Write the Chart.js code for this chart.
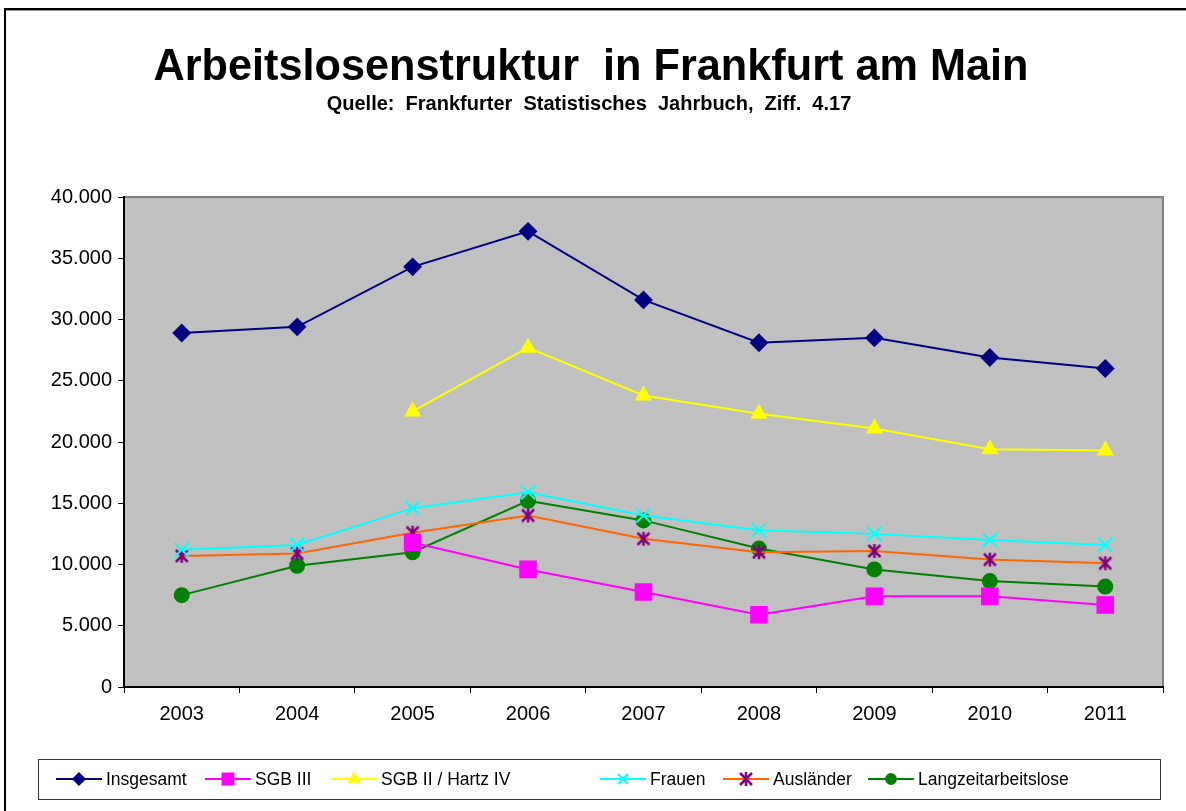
<!DOCTYPE html>
<html lang="de">
<head>
<meta charset="utf-8">
<title>Arbeitslosenstruktur in Frankfurt am Main</title>
<script src="https://cdn.jsdelivr.net/npm/chart.js@4.4.1/dist/chart.umd.min.js"></script>
<style>
  html, body { margin: 0; padding: 0; background: #fff; }
  #wrap { position: relative; width: 1186px; height: 811px; }
  canvas { display: block; }
</style>
</head>
<body>
<div id="wrap"><canvas id="grafik" width="1186" height="811"></canvas></div>
<script>
// Daten
const jahre = ['2003', '2004', '2005', '2006', '2007', '2008', '2009', '2010', '2011'];
const insgesamt = [28900, 29400, 34300, 37200, 31600, 28100, 28500, 26900, 26000];
const sgb3 = [null, null, 11800, 9600, 7750, 5900, 7400, 7400, 6700];
const sgb2 = [null, null, 22500, 27700, 23800, 22300, 21100, 19400, 19300];
const frauen = [11200, 11600, 14600, 15900, 14000, 12800, 12500, 12000, 11600];
const auslaender = [10700, 10900, 12600, 14000, 12100, 11000, 11100, 10400, 10100];
const langzeit = [7500, 9900, 11000, 15200, 13600, 11300, 9600, 8650, 8200];
const yTicks = [0, 5000, 10000, 15000, 20000, 25000, 30000, 35000, 40000];

const titel = 'Arbeitslosenstruktur  in Frankfurt am Main';
const untertitel = 'Quelle:  Frankfurter  Statistisches  Jahrbuch,  Ziff.  4.17';
const FONT = '"Liberation Sans", Arial, sans-serif';

// Stern-Marker wie in Excel (X + senkrechter Strich)
function sternMarker(farbe) {
    const c = document.createElement('canvas');
    c.width = 16; c.height = 16;
    const g = c.getContext('2d');
    g.strokeStyle = farbe;
    g.lineWidth = 2.5;
    g.beginPath();
    g.moveTo(2, 2); g.lineTo(14, 14);
    g.moveTo(14, 2); g.lineTo(2, 14);
    g.moveTo(8, 1); g.lineTo(8, 15);
    g.stroke();
    return c;
}
const stern = sternMarker('#800080');

const serien = [
    { label: 'Insgesamt', data: insgesamt, borderColor: '#000080', backgroundColor: '#000080', pointStyle: 'rectRot', pointRadius: 8 },
    { label: 'SGB III', data: sgb3, borderColor: '#FF00FF', backgroundColor: '#FF00FF', pointStyle: 'rect', pointRadius: 11 },
    { label: 'SGB II / Hartz IV', data: sgb2, borderColor: '#FFFF00', backgroundColor: '#FFFF00', pointStyle: 'triangle', pointRadius: 8 },
    { label: 'Frauen', data: frauen, borderColor: '#00FFFF', backgroundColor: '#00FFFF', pointStyle: 'crossRot', pointRadius: 10 },
    { label: 'Ausländer', data: auslaender, borderColor: '#FF6600', backgroundColor: '#800080', pointStyle: stern, pointRadius: 8 },
    { label: 'Langzeitarbeitslose', data: langzeit, borderColor: '#008000', backgroundColor: '#008000', pointStyle: 'circle', pointRadius: 7 }
];

const legendeX = [56, 205, 331, 600, 723, 868];

const rahmenPlugin = {
    id: 'rahmen',
    beforeDraw(chart) {
        const { ctx, chartArea: a } = chart;
        ctx.save();
        // Diagrammrahmen
        ctx.fillStyle = '#000';
        ctx.fillRect(4, 8, 1182, 2);
        ctx.fillRect(4, 8, 2, 803);
        ctx.fillStyle = '#999';
        ctx.fillRect(6, 10, 1180, 1);
        // Zeichnungsfläche
        ctx.fillStyle = '#C0C0C0';
        ctx.fillRect(a.left, a.top, a.right - a.left, a.bottom - a.top);
        ctx.strokeStyle = '#808080';
        ctx.lineWidth = 2;
        ctx.beginPath();
        ctx.moveTo(a.left, a.top);
        ctx.lineTo(a.right, a.top);
        ctx.lineTo(a.right, a.bottom);
        ctx.stroke();
        // Titel
        ctx.fillStyle = '#000';
        ctx.textAlign = 'center';
        ctx.textBaseline = 'alphabetic';
        ctx.font = 'bold 45px ' + FONT;
        ctx.fillText(titel, 591, 80, 875);
        ctx.font = 'bold 20px ' + FONT;
        ctx.fillText(untertitel, 589, 110, 542);
        ctx.restore();
    },
    afterDraw(chart) {
        const { ctx } = chart;
        ctx.save();
        ctx.strokeStyle = '#333';
        ctx.lineWidth = 1;
        ctx.strokeRect(38.5, 759.5, 1122, 40);
        const y = 779;
        chart.data.datasets.forEach((ds, i) => {
            const x0 = legendeX[i];
            ctx.strokeStyle = ds.borderColor;
            ctx.lineWidth = 2;
            ctx.beginPath();
            ctx.moveTo(x0, y);
            ctx.lineTo(x0 + 46, y);
            ctx.stroke();
            ctx.fillStyle = ds.backgroundColor;
            ctx.strokeStyle = ds.backgroundColor;
            Chart.helpers.drawPoint(ctx, {
                pointStyle: ds.pointStyle,
                radius: ds.pointRadius * 0.7,
                rotation: 0,
                borderWidth: 2
            }, x0 + 23, y);
            ctx.fillStyle = '#000';
            ctx.font = '17.5px ' + FONT;
            ctx.textAlign = 'left';
            ctx.textBaseline = 'middle';
            ctx.fillText(ds.label, x0 + 50, y + 1);
        });
        ctx.restore();
    }
};

const ctx = document.getElementById('grafik').getContext('2d');
new Chart(ctx, {
    type: 'line',
    data: {
        labels: jahre,
        datasets: serien.map((s) => ({
            ...s,
            pointBorderColor: s.backgroundColor,
            pointBackgroundColor: s.backgroundColor,
            borderWidth: 2,
            pointBorderWidth: 2,
            tension: 0,
            spanGaps: false
        }))
    },
    options: {
        responsive: false,
        animation: false,
        layout: { padding: { left: 0, top: 197, right: 23, bottom: 84 } },
        plugins: {
            legend: { display: false },
            title: { display: false },
            tooltip: { enabled: false }
        },
        scales: {
            x: {
                offset: true,
                grid: { offset: true, drawOnChartArea: false, drawTicks: true, tickLength: 6, color: '#000' },
                border: { display: true, color: '#000', width: 2 },
                ticks: { color: '#000', font: { family: FONT, size: 20 }, padding: 9, maxRotation: 0 },
                afterFit(scale) { scale.height = 40; }
            },
            y: {
                min: 0,
                max: 40000,
                afterBuildTicks(scale) { scale.ticks = yTicks.map((v) => ({ value: v })); },
                grid: { drawOnChartArea: false, drawTicks: true, tickLength: 6, color: '#000' },
                border: { display: true, color: '#000', width: 2 },
                ticks: {
                    color: '#000',
                    font: { family: FONT, size: 20 },
                    padding: 6,
                    callback: (v) => v.toLocaleString('de-DE')
                },
                afterFit(scale) { scale.width = 124; }
            }
        }
    },
    plugins: [rahmenPlugin]
});
</script>
</body>
</html>
